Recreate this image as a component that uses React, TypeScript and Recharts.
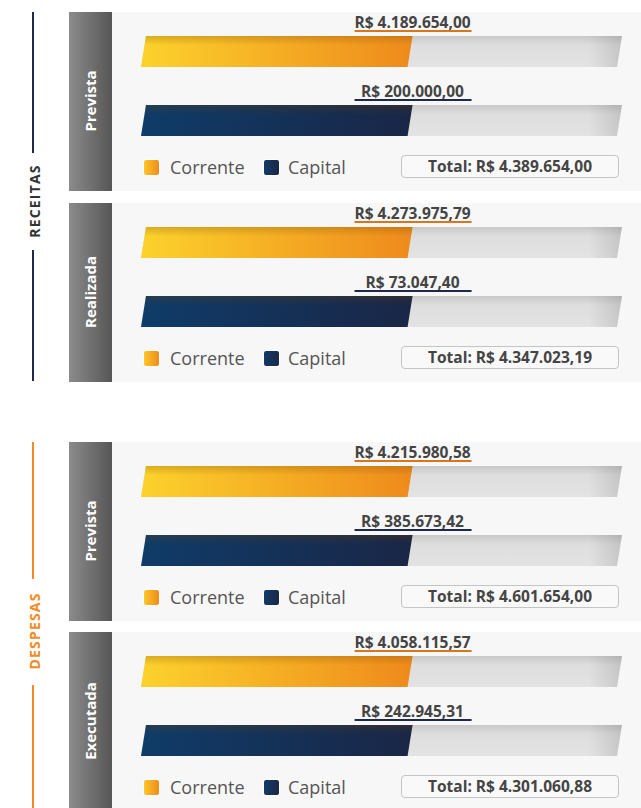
import { BarChart, Bar, XAxis, YAxis, LabelList } from 'recharts'

const categorias = ['Corrente', 'Capital']

// valores em R$
const receitaPrevista = [4189654.0, 200000.0]
const receitaRealizada = [4273975.79, 73047.4]
const despesaPrevista = [4215980.58, 385673.42]
const despesaExecutada = [4058115.57, 242945.31]

// fração da trilha preenchida (o infográfico desenha tudo do mesmo tamanho)
const comprimentoBarra = [0.56, 0.56]

const titulosReceita = ['Prevista', 'Realizada']
const titulosDespesa = ['Prevista', 'Executada']

const FONTE = '"Open Sans", "Noto Sans", sans-serif'
const INCLINA = 5

function moeda(v: number) {
  const [inteiro, dec] = v.toFixed(2).split('.')
  return 'R$ ' + inteiro.replace(/\B(?=(\d{3})+(?!\d))/g, '.') + ',' + dec
}

function pontos(x: number, y: number, w: number, h: number) {
  return `${x + INCLINA},${y} ${x + w + INCLINA},${y} ${x + w},${y + h} ${x},${y + h}`
}

function Trilho(props: any) {
  const { x, y, width, height, id } = props
  return (
    <g>
      <polygon points={pontos(x, y, width, height)} fill={`url(#trilho-${id})`} />
      <polygon points={pontos(x, y, width, height)} fill={`url(#trilhoLado-${id})`} />
    </g>
  )
}

function Barra(props: any) {
  const { x, y, width, height, payload, id } = props
  const corrente = payload.nome === 'Corrente'
  return (
    <g>
      <polygon points={pontos(x, y, width, height)} fill={corrente ? `url(#corrente-${id})` : `url(#capital-${id})`} />
      <polygon points={pontos(x, y, width, height)} fill={`url(#sombra-${id})`} />
    </g>
  )
}

function Rotulo(props: any) {
  const vb = props.viewBox || {}
  const x = props.x ?? vb.x
  const y = props.y ?? vb.y
  const width = props.width ?? vb.width
  const cx = x + width + INCLINA
  const cor = props.index === 0 ? '#d9761c' : '#1e2a4c'
  return (
    <g>
      <text x={cx} y={y - 8} textAnchor="middle" fontFamily={FONTE} fontWeight={700} fontSize={15.5} fill="#444">
        {moeda(props.value)}
      </text>
      <rect x={cx - 58} y={y - 6} width={117} height={2} fill={cor} />
    </g>
  )
}

function GraficoPainel({ valores, id }: { valores: number[]; id: string }) {
  const dados = categorias.map((nome, i) => ({ nome, valor: valores[i], comprimento: comprimentoBarra[i] }))
  return (
    <BarChart width={529} height={145} data={dados} layout="vertical" margin={{ top: 5, right: 24, bottom: 2, left: 29 }}>
      <defs>
        <linearGradient id={`corrente-${id}`} x1="0" y1="0" x2="1" y2="0">
          <stop offset="0%" stopColor="#fcd22c" />
          <stop offset="100%" stopColor="#ee8a1c" />
        </linearGradient>
        <linearGradient id={`capital-${id}`} x1="0" y1="0" x2="1" y2="0">
          <stop offset="0%" stopColor="#0f3c69" />
          <stop offset="100%" stopColor="#1a2646" />
        </linearGradient>
        <linearGradient id={`sombra-${id}`} x1="0" y1="0" x2="0" y2="1">
          <stop offset="0%" stopColor="#6b4300" stopOpacity={0.25} />
          <stop offset="30%" stopColor="#6b4300" stopOpacity={0} />
          <stop offset="100%" stopColor="#000" stopOpacity={0} />
        </linearGradient>
        <linearGradient id={`trilho-${id}`} x1="0" y1="0" x2="0" y2="1">
          <stop offset="0%" stopColor="#c9c9c9" />
          <stop offset="30%" stopColor="#dedede" />
          <stop offset="100%" stopColor="#e3e3e3" />
        </linearGradient>
        <linearGradient id={`trilhoLado-${id}`} x1="0" y1="0" x2="1" y2="0">
          <stop offset="93%" stopColor="#000" stopOpacity={0} />
          <stop offset="100%" stopColor="#000" stopOpacity={0.12} />
        </linearGradient>
      </defs>
      <XAxis type="number" domain={[0, 1]} hide />
      <YAxis type="category" dataKey="nome" hide />
      <Bar
        dataKey="comprimento"
        barSize={31}
        isAnimationActive={false}
        background={(p: any) => <Trilho key={`t-${p.index}`} {...p} id={id} />}
        shape={(p: any) => <Barra {...p} id={id} />}
      >
        <LabelList dataKey="valor" content={<Rotulo />} />
      </Bar>
    </BarChart>
  )
}

function Quadrado({ corrente }: { corrente: boolean }) {
  return (
    <div
      style={{
        width: 15,
        height: 15,
        borderRadius: 3,
        border: '1.5px solid #fff',
        background: corrente ? 'linear-gradient(90deg,#fcc62a,#ef8c1c)' : 'linear-gradient(90deg,#123a66,#1a2848)',
      }}
    />
  )
}

function Painel({ top, titulo, valores, id }: { top: number; titulo: string; valores: number[]; id: string }) {
  const total = valores.reduce((a, b) => a + b, 0)
  return (
    <div style={{ position: 'absolute', left: 69, top, width: 572, height: 179 }}>
      <div style={{ position: 'absolute', left: 0, top: 0, width: 43, height: 179, background: 'linear-gradient(90deg,#8b8b8b,#565656)' }}>
        <div
          style={{
            position: 'absolute',
            left: 21,
            top: 89,
            transform: 'translate(-50%,-50%) rotate(-90deg)',
            color: '#fff',
            fontWeight: 700,
            fontSize: 15,
            whiteSpace: 'nowrap',
          }}
        >
          {titulo}
        </div>
      </div>
      <div style={{ position: 'absolute', left: 43, top: 0, width: 529, height: 179, background: '#f7f7f7' }}>
        <GraficoPainel valores={valores} id={id} />
        <div style={{ position: 'absolute', left: 31, top: 143, display: 'flex', alignItems: 'center' }}>
          <Quadrado corrente />
          <span style={{ marginLeft: 10, fontSize: 18, color: '#555', width: 93 }}>{categorias[0]}</span>
          <Quadrado corrente={false} />
          <span style={{ marginLeft: 8, fontSize: 18, color: '#555' }}>{categorias[1]}</span>
        </div>
        <div
          style={{
            position: 'absolute',
            left: 289,
            top: 143,
            width: 216,
            height: 21,
            border: '1px solid #c4c4c4',
            borderRadius: 4,
            background: '#f9f9f9',
            textAlign: 'center',
            lineHeight: '21px',
            fontSize: 15.5,
            fontWeight: 700,
            color: '#444',
          }}
        >
          Total: {moeda(total)}
        </div>
      </div>
    </div>
  )
}

function Grupo({ titulo, cor, texto, linha1, centro, linha2 }: { titulo: string; cor: string; texto: string; linha1: [number, number]; centro: number; linha2: [number, number] }) {
  return (
    <>
      <div style={{ position: 'absolute', left: 32, top: linha1[0], width: 2, height: linha1[1] - linha1[0], background: cor }} />
      <div
        style={{
          position: 'absolute',
          left: 34,
          top: centro,
          transform: 'translate(-50%,-50%) rotate(-90deg)',
          color: texto,
          fontWeight: 700,
          fontSize: 14,
          letterSpacing: 1.2,
          whiteSpace: 'nowrap',
        }}
      >
        {titulo}
      </div>
      <div style={{ position: 'absolute', left: 32, top: linha2[0], width: 2, height: linha2[1] - linha2[0], background: cor }} />
    </>
  )
}

export default function App() {
  return (
    <div style={{ position: 'absolute', left: 0, top: 0, width: 641, height: 808, overflow: 'hidden', background: '#fff', fontFamily: FONTE }}>
      <Grupo titulo="RECEITAS" cor="#1f2a4b" texto="#333" linha1={[12, 153]} centro={201} linha2={[250, 381]} />
      <Grupo titulo="DESPESAS" cor="#f28a26" texto="#f28a26" linha1={[442, 579]} centro={631} linha2={[685, 808]} />
      <Painel top={12} titulo={titulosReceita[0]} valores={receitaPrevista} id="rp" />
      <Painel top={203} titulo={titulosReceita[1]} valores={receitaRealizada} id="rr" />
      <Painel top={442} titulo={titulosDespesa[0]} valores={despesaPrevista} id="dp" />
      <Painel top={632} titulo={titulosDespesa[1]} valores={despesaExecutada} id="de" />
    </div>
  )
}
